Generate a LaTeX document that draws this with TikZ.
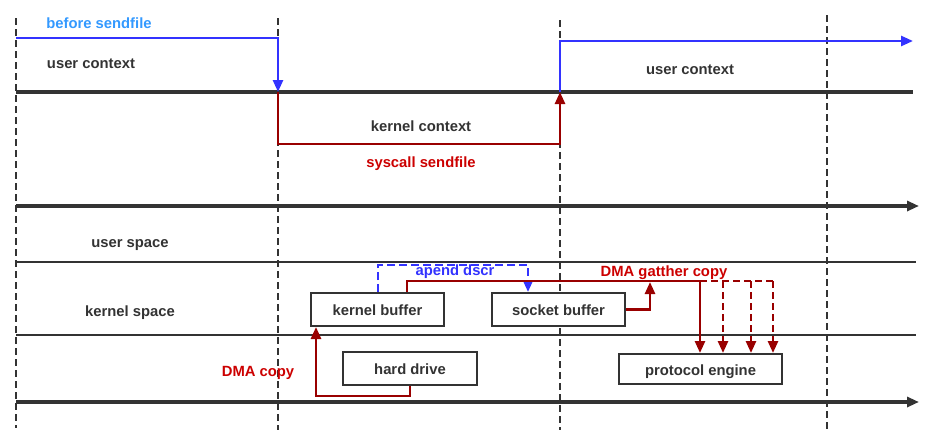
\documentclass[tikz,border=0pt]{standalone}
\usepackage{fontspec}
\setmainfont{Liberation Sans}
\usetikzlibrary{arrows.meta}
\definecolor{dk}{HTML}{333333}
\definecolor{bl}{HTML}{3333FF}
\definecolor{lb}{HTML}{3399FF}
\definecolor{rd}{HTML}{990000}
\definecolor{rt}{HTML}{CC0000}
\tikzset{
  lbl/.style={font=\fontsize{14.8pt}{16pt}\selectfont\bfseries, text=dk, inner sep=0pt, text height=13pt, text depth=1pt},
  rlbl/.style={lbl, text=rt},
  box/.style={draw=dk, line width=2pt, fill=white, font=\fontsize{14.8pt}{16pt}\selectfont\bfseries, text=dk, inner sep=0pt, text height=13pt, text depth=1pt},
  vdash/.style={draw=dk, line width=1.8pt, dash pattern=on 7pt off 4pt},
  thick3/.style={draw=dk, line width=3.8pt},
  thin2/.style={draw=dk, line width=2.4pt},
  tip/.style={-{Triangle[length=12pt,width=10pt]}},
  bline/.style={draw=bl, line width=2.6pt},
  rline/.style={draw=rd, line width=2.6pt},
}
\begin{document}
\begin{tikzpicture}[x=1pt,y=-1pt]
\useasboundingbox (0,0) rectangle (935,442);
% vertical dashed
\draw[vdash] (16,18) -- (16,428);
\draw[vdash] (278,18) -- (278,430);
\draw[vdash] (560,20) -- (560,430);
\draw[vdash] (827,15) -- (827,430);
% horizontal lines
\draw[thick3] (16,92) -- (913,92);
\draw[thick3, tip] (16,206) -- (919,206);
\draw[thin2] (16,262) -- (916,262);
\draw[thin2] (16,335) -- (916,335);
\draw[thick3, tip] (16,402) -- (919,402);
% coordinates
\coordinate (bs) at (16,38);
\coordinate (sw1) at (278,92);
\coordinate (sw2) at (560,92);
\coordinate (be) at (913,41);
% texts
\node[lbl, text=lb] (tbefore) at (99,22) {before sendfile};
\node[lbl] (tuc1) at (91,62) {user context};
\node[lbl] (tkc) at (421,125) {kernel context};
\node[rlbl] (tsys) at (421,161) {syscall sendfile};
\node[lbl] (tuc2) at (690,68) {user context};
\node[lbl] (tus) at (130,241) {user space};
\node[lbl] (tks) at (130,310) {kernel space};
\node[rlbl] (tdma) at (258,370) {DMA copy};
% boxes
\node[box, minimum width=133pt, minimum height=33pt] (kb) at (377.5,309.5) {kernel buffer};
\node[box, minimum width=133pt, minimum height=33pt] (sb) at (558.5,309.5) {socket buffer};
\node[box, minimum width=134pt, minimum height=33pt] (hd) at (410,368.5) {hard drive};
\node[box, minimum width=163pt, minimum height=30pt] (pe) at (700.5,369) {protocol engine};
% blue context arrows
\draw[bline, tip] (bs) -- (278,38) -- (sw1);
\draw[rline, tip] (sw1) -- (278,144) -- (560,144) -- (sw2);
\draw[bline, tip] (sw2) -- (560,41) -- (be);
% DMA copy
\draw[rline, tip] (410,0 |- hd.south) -- (410,396) -- (316,396) -- (316,0 |- kb.south);
% apend dscr
\draw[bline, dash pattern=on 8pt off 4pt, tip] (378,0 |- kb.north) -- (378,265) -- (528,265) -- (528,0 |- sb.north);
\node[lbl, text=bl, fill=white, inner xsep=1pt, text height=10pt] (tap) at (455,271) {apend dscr};
% DMA gather
\draw[rline, tip] (407,0 |- kb.north) -- (407,281) -- (700,281) -- (700,0 |- pe.north);
\draw[rline, tip] (sb.east) -- (650,0 |- sb.east) -- (650,282);
\draw[rline, dash pattern=on 7pt off 4pt] (700,281) -- (773,281);
\draw[rline, dash pattern=on 7pt off 4pt, tip] (723,281) -- (723,0 |- pe.north);
\draw[rline, dash pattern=on 7pt off 4pt, tip] (751,281) -- (751,0 |- pe.north);
\draw[rline, dash pattern=on 7pt off 4pt, tip] (773,281) -- (773,0 |- pe.north);
\node[rlbl] (tgat) at (664,270) {DMA gatther copy};
\end{tikzpicture}
\end{document}
